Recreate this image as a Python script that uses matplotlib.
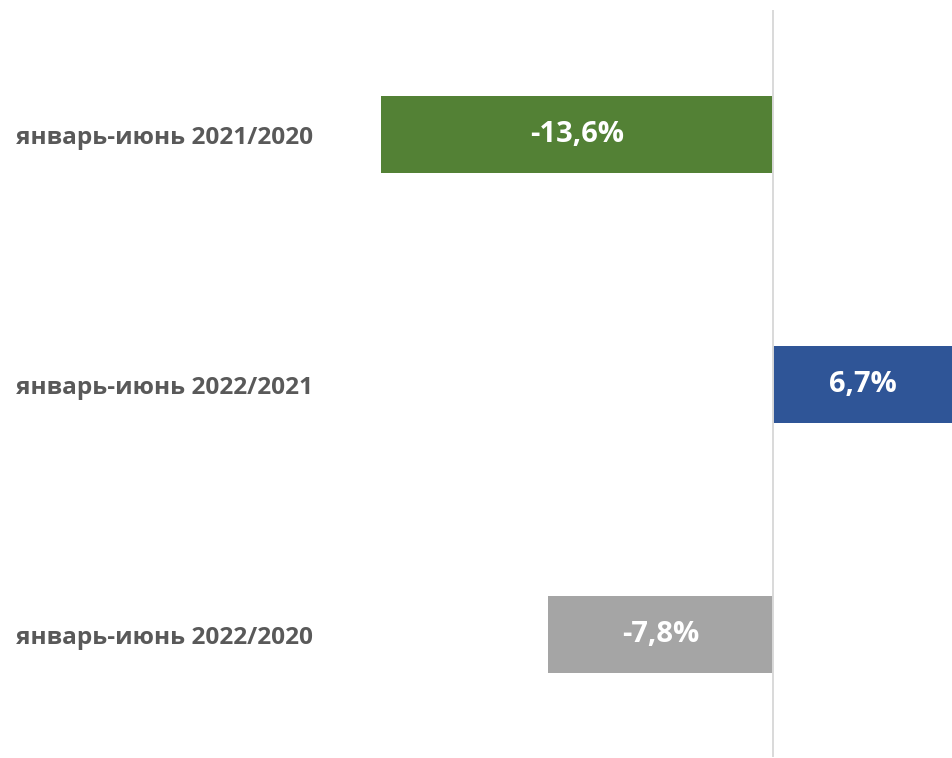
import matplotlib.pyplot as plt

categories = ["январь-июнь 2021/2020", "январь-июнь 2022/2021", "январь-июнь 2022/2020"]
values = [-13.6, 6.7, -7.8]
value_labels = ["-13,6%", "6,7%", "-7,8%"]
colors = ["#538135", "#2F5597", "#A5A5A5"]

plt.rcParams["font.family"] = ["Open Sans", "DejaVu Sans"]

fig = plt.figure(figsize=(9.53, 7.58), dpi=100)
ax = fig.add_axes([330 / 953, 1 - 757 / 758, 1 - 330 / 953, 747 / 758])

y = list(range(len(categories)))
ax.barh(y, values, height=0.308, color=colors, zorder=2)

xmin, xmax = -15.36, 6.22
ax.set_xlim(xmin, xmax)
ax.set_ylim(2.49, -0.5)

ax.axvline(0, color="#D9D9D9", lw=1.4, zorder=3)

for yi, v, lab in zip(y, values, value_labels):
    end = max(min(v, xmax), xmin)
    ax.text(end / 2, yi, lab, ha="center", va="center", color="white",
            fontsize=21, fontweight="bold", zorder=4)

ax.set_yticks(y)
ax.set_yticklabels(categories, fontsize=17.6, fontweight="bold", color="#595959")
ax.tick_params(axis="y", length=0, pad=12)
ax.set_xticks([])
for s in ax.spines.values():
    s.set_visible(False)

fig.savefig("out.png", dpi=100, facecolor="white")
